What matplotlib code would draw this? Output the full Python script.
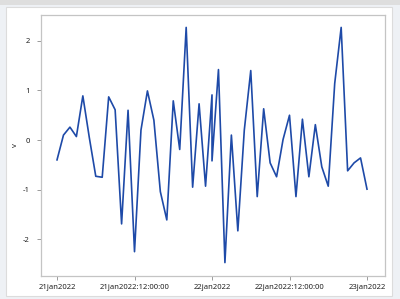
import matplotlib
matplotlib.use("Agg")
import matplotlib.pyplot as plt
from matplotlib.patches import Rectangle

plt.rcParams['font.family'] = ['Noto Sans', 'DejaVu Sans']

# time in hours since 21jan2022 00:00 (22jan 00:00 appears twice)
hours = list(range(0, 25)) + list(range(24, 49))
v = [-0.40, 0.10, 0.26, 0.07, 0.89, 0.05, -0.73, -0.75, 0.87, 0.61,
     -1.69, 0.60, -2.25, 0.20, 0.99, 0.40, -1.04, -1.61, 0.79, -0.19,
     2.27, -0.95, 0.73, -0.93, 0.91,
     -0.42, 1.42, -2.47, 0.10, -1.83, 0.20, 1.40, -1.14, 0.63, -0.46,
     -0.74, 0.01, 0.50, -1.14, 0.42, -0.74, 0.31, -0.54, -0.93, 1.14,
     2.27, -0.62, -0.46, -0.36, -0.99]
xtick_pos = [0, 12, 24, 36, 48]
xtick_labels = ["21jan2022", "21jan2022:12:00:00", "22jan2022",
                "22jan2022:12:00:00", "23jan2022"]
ytick_pos = [-2, -1, 0, 1, 2]
ytick_labels = ["-2", "-1", "0", "1", "2"]

W, H = 400, 299
fig = plt.figure(figsize=(W / 100, H / 100), dpi=100)
fig.patch.set_facecolor('#eef1f5')
# top gray band
fig.patches.append(Rectangle((0, 1 - 5 / H), 1, 5 / H, transform=fig.transFigure,
                             facecolor='#dedede', edgecolor='none', zorder=-10))
# white graph region
fig.patches.append(Rectangle((6 / W, 1 - 296 / H), 386 / W, 289 / H,
                             transform=fig.transFigure, facecolor='white',
                             edgecolor='#dcdcdc', linewidth=0.8, zorder=-10))

ax = fig.add_axes([41 / W, 1 - 276 / H, (384.5 - 41) / W, (276 - 15) / H])
ax.set_zorder(5)
ax.set_facecolor('white')
ax.plot(hours, v, color='#1e4aa8', linewidth=1.2)

ax.set_xlim(-2.48, 50.71)
ax.set_ylim(-2.74, 2.52)
ax.set_xticks(xtick_pos)
ax.set_xticklabels(xtick_labels)
ax.set_yticks(ytick_pos)
ax.set_yticklabels(ytick_labels)
ax.tick_params(axis='both', labelsize=5.5, colors='#8a8a8a', labelcolor='#222222',
               length=3, width=0.6, direction='out')
ax.tick_params(axis='x', pad=3)
ax.tick_params(axis='y', pad=5)
for s in ax.spines.values():
    s.set_color('#c4c4c4')
    s.set_linewidth(0.9)
ax.set_ylabel('v', fontsize=5.5, color='#222222', labelpad=3)

fig.savefig('out.png', dpi=100, facecolor=fig.get_facecolor())
